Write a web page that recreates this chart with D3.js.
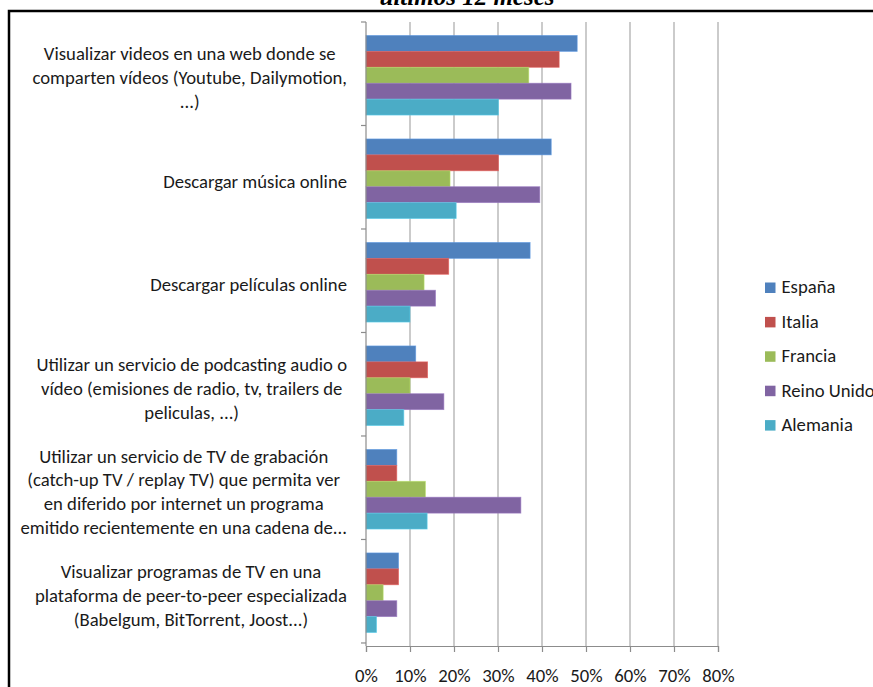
<!DOCTYPE html>
<html><head><meta charset="utf-8">
<script src="https://cdn.jsdelivr.net/npm/d3@7"></script>
<style>html,body{margin:0;padding:0;background:#fff;}svg{display:block;}</style>
</head><body>
<script>
const categories = [
  ["Visualizar videos en una web donde se", "comparten vídeos (Youtube, Dailymotion,", "...)"],
  ["Descargar música online"],
  ["Descargar películas online"],
  ["Utilizar un servicio de podcasting audio o", "vídeo (emisiones de radio, tv, trailers de", "peliculas, ...)"],
  ["Utilizar un servicio de TV de grabación", "(catch-up TV / replay TV) que permita ver", "en diferido por internet un programa", "emitido recientemente en una cadena de..."],
  ["Visualizar programas de TV en una", "plataforma de peer-to-peer especializada", "(Babelgum, BitTorrent, Joost...)"]
];
const seriesNames = ["España", "Italia", "Francia", "Reino Unido", "Alemania"];
const espana   = [48.0, 42.1, 37.3, 11.3, 7.0, 7.4];
const italia   = [43.9, 30.1, 18.8, 14.0, 7.0, 7.4];
const francia  = [37.0, 19.1, 13.2, 10.0, 13.5, 3.9];
const reino    = [46.6, 39.5, 15.8, 17.7, 35.2, 7.0];
const alemania = [30.1, 20.5, 10.0, 8.6, 13.9, 2.4];
const seriesValues = [espana, italia, francia, reino, alemania];
const colors = ["#4F81BD", "#C0504D", "#9BBB59", "#8064A2", "#4BACC6"];
const tickValues = [0, 10, 20, 30, 40, 50, 60, 70, 80];
const titleText = "últimos 12 meses";

const W = 873, H = 687;
const FONT = "Carlito, Calibri, Lato, sans-serif";
const svg = d3.select("body").append("svg").attr("width", W).attr("height", H);
svg.append("rect").attr("width", W).attr("height", H).attr("fill", "#fff");

// fit font size so a reference label matches the target width
const probe = svg.append("text").attr("font-family", FONT).attr("font-size", 18).text("Visualizar videos en una web donde se");
const pw = probe.node().getComputedTextLength();
probe.remove();
const FS = Math.max(12, Math.min(20, 18 * 292 / pw));

// title (cut off at top, as in the reference)
svg.append("text").attr("x", 467).attr("y", 5).attr("text-anchor", "middle")
  .attr("font-family", "Liberation Serif, Times New Roman, serif").attr("font-style", "italic")
  .attr("font-weight", "bold").attr("font-size", 25).attr("fill", "#000").text(titleText);

// border (right and bottom sides run past the picture's edge)
svg.append("rect").attr("x", 9).attr("y", 11).attr("width", 900).attr("height", 720)
  .attr("fill", "none").attr("stroke", "#000").attr("stroke-width", 2.5);

const x0 = 366, x1 = 718, yTop = 22, yBot = 646;
const x = d3.scaleLinear().domain([0, 80]).range([x0, x1]);
const y = d3.scaleBand().domain(d3.range(categories.length)).range([yTop, yBot]).paddingInner(0.2308).paddingOuter(0.13);
const ys = d3.scaleBand().domain(d3.range(seriesNames.length)).range([0, y.bandwidth()]);

// gridlines
svg.append("g").selectAll("line").data(tickValues.slice(1)).join("line")
  .attr("x1", d => x(d)).attr("x2", d => x(d)).attr("y1", yTop).attr("y2", yBot)
  .attr("stroke", "#a8a8a8").attr("stroke-width", 1.2);

// bars
const g = svg.append("g");
categories.forEach((c, ci) => {
  seriesValues.forEach((vals, si) => {
    g.append("rect")
      .attr("x", x(0)).attr("y", y(ci) + ys(si))
      .attr("width", x(vals[ci]) - x(0)).attr("height", ys.bandwidth())
      .attr("fill", colors[si])
      .attr("stroke", d3.color(colors[si]).brighter(0.5)).attr("stroke-width", 0.8).attr("stroke-opacity", 0.7);
  });
});

// x axis
const xAxis = d3.axisBottom(x).tickValues(tickValues).tickFormat(d => d + "%").tickSize(6).tickPadding(9);
const gx = svg.append("g").attr("transform", `translate(0,${yBot})`).call(xAxis);
gx.select(".domain").attr("stroke", "#8c8c8c").attr("stroke-width", 1.2);
gx.selectAll(".tick line").attr("stroke", "#8c8c8c").attr("stroke-width", 1.2);
gx.selectAll("text").attr("font-family", FONT).attr("font-size", FS).attr("fill", "#1a1a1a").attr("dy", null).attr("y", 36);

// y axis line + boundary ticks
const bounds = d3.range(categories.length + 1).map(i => yTop + i * y.step());
svg.append("line").attr("x1", x0).attr("x2", x0).attr("y1", yTop).attr("y2", yBot).attr("stroke", "#8c8c8c").attr("stroke-width", 1.2);
svg.append("g").selectAll("line").data(bounds).join("line")
  .attr("x1", x0 - 5).attr("x2", x0).attr("y1", d => d).attr("y2", d => d)
  .attr("stroke", "#8c8c8c").attr("stroke-width", 1.2);

// category labels: lines centred within a block that is right-aligned next to the axis
const lh = 23.8, rightEdge = 347;
categories.forEach((lines, ci) => {
  const cy = y(ci) + y.bandwidth() / 2;
  const t = svg.append("text").attr("font-family", FONT).attr("font-size", FS).attr("fill", "#1a1a1a").attr("text-anchor", "middle");
  const spans = lines.map((ln, i) =>
    t.append("tspan").attr("y", cy + 9 + (i - (lines.length - 1) / 2) * lh).text(ln));
  const bw = d3.max(spans, s => s.node().getComputedTextLength());
  spans.forEach(s => s.attr("x", rightEdge - bw / 2));
});

// legend
const lg = svg.append("g");
seriesNames.forEach((n, i) => {
  const yy = 282.5 + i * 34.4;
  lg.append("rect").attr("x", 765).attr("y", yy).attr("width", 10.5).attr("height", 10.5).attr("fill", colors[i]);
  lg.append("text").attr("x", 781.5).attr("y", yy + 10.8).attr("font-family", FONT).attr("font-size", FS).attr("fill", "#1a1a1a").text(n);
});
</script>
</body></html>
